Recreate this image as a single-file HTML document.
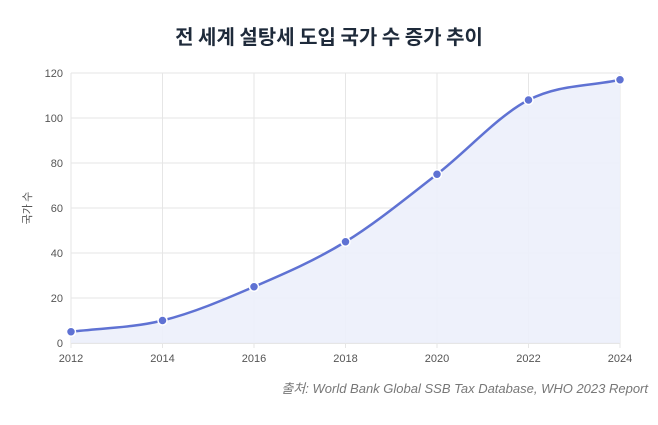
<!DOCTYPE html>
<html><head><meta charset="utf-8">
<style>
body{margin:0;background:#fff;width:658px;height:420px;overflow:hidden;font-family:"Liberation Sans","Noto Sans CJK KR",sans-serif;}
</style></head>
<body>
<svg id="chart" width="658" height="420" xmlns="http://www.w3.org/2000/svg" font-family="Liberation Sans, Noto Sans CJK KR, sans-serif">
<text x="329" y="44" text-anchor="middle" font-size="20" font-weight="bold" fill="#1e2a3a" font-family="Noto Sans CJK KR, sans-serif">전 세계 설탕세 도입 국가 수 증가 추이</text>
<g id="grid"></g>
<g id="axes"></g>
<path id="area" fill="#eceffb" opacity="0.9"></path>
<path id="line" fill="none" stroke="#5f72d3" stroke-width="2.5"></path>
<g id="points"></g>
<text transform="translate(31,208) rotate(-90)" text-anchor="middle" font-size="11" fill="#555" font-family="Noto Sans CJK KR, sans-serif">국가 수</text>
<text x="648" y="393" text-anchor="end" font-size="13" font-style="italic" fill="#777" font-family="Liberation Sans, Noto Sans CJK KR, sans-serif">출처: World Bank Global SSB Tax Database, WHO 2023 Report</text>
</svg>
<script>
const years=[2012,2014,2016,2018,2020,2022,2024];
const counts=[5,10,25,45,75,108,117];
const yTicks=[0,20,40,60,80,100,120];
const NS="http://www.w3.org/2000/svg";
const x0=71,x1=620,yb=343,yt=73;
const xs=v=>x0+(v-years[0])/(years[years.length-1]-years[0])*(x1-x0);
const ys=v=>yb-v/120*(yb-yt);
function mk(tag,attrs,parent){const e=document.createElementNS(NS,tag);for(const k in attrs)e.setAttribute(k,attrs[k]);parent.appendChild(e);return e;}
const grid=document.getElementById('grid'),axes=document.getElementById('axes');
yTicks.forEach(t=>{
 const l=mk('line',{x1:x0,x2:x1,y1:ys(t),y2:ys(t),stroke:t===0?'#ccc':'#e6e6e6'},grid);
 
 
 const tx=mk('text',{x:x0-8,y:ys(t)+4,'text-anchor':'end','font-size':11,fill:'#555'},axes);
 tx.textContent=t;
 
 
});
years.forEach(yv=>{
 const l=mk('line',{x1:xs(yv),x2:xs(yv),y1:yt,y2:yb+5,stroke:'#e6e6e6'},grid);
 
 
 const tx=mk('text',{x:xs(yv),y:yb+19,'text-anchor':'middle','font-size':11,fill:'#555'},axes);
 tx.textContent=yv;
 
 
});
const P=years.map((yv,i)=>[xs(yv),ys(counts[i])]);
// monotone cubic
const n=P.length,d=[],m=[];
for(let i=0;i<n-1;i++)d.push((P[i+1][1]-P[i][1])/(P[i+1][0]-P[i][0]));
m[0]=d[0];m[n-1]=d[n-2];
for(let i=1;i<n-1;i++)m[i]=(d[i-1]*d[i]<=0)?0:(d[i-1]+d[i])/2;
let path=`M${P[0][0]},${P[0][1]}`;
for(let i=0;i<n-1;i++){const h=(P[i+1][0]-P[i][0])/3;
 path+=` C${P[i][0]+h},${P[i][1]+m[i]*h} ${P[i+1][0]-h},${P[i+1][1]-m[i+1]*h} ${P[i+1][0]},${P[i+1][1]}`;}
document.getElementById('line').setAttribute('d',path);
document.getElementById('area').setAttribute('d',path+` L${P[n-1][0]},${yb} L${P[0][0]},${yb} Z`);
const pts=document.getElementById('points');
P.forEach(p=>{
 const c=mk('circle',{cx:p[0],cy:p[1],r:4.5,fill:'#5f72d3',stroke:'#fff','stroke-width':1.5},pts);
 
 
});
</script>
</body></html>
